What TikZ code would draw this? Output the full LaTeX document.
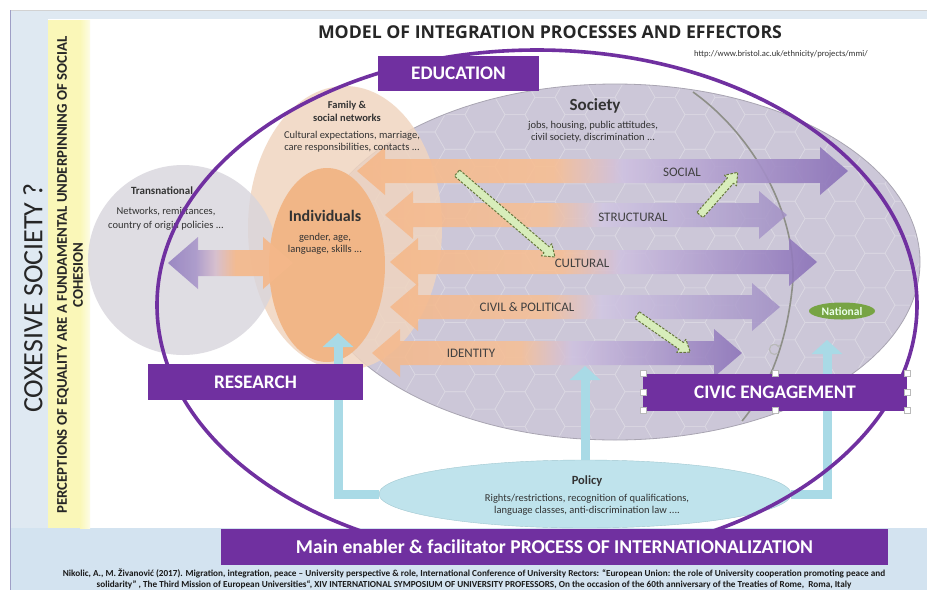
\documentclass[tikz,border=0pt]{standalone}
\usepackage{fontspec}
\setmainfont{Carlito}
\newfontfamily\headfont{Open Sans}
\usetikzlibrary{arrows.meta,calc,shapes.geometric}

\definecolor{vio}{HTML}{7030A0}
\definecolor{socfill}{HTML}{CCC7D8}
\definecolor{socline}{HTML}{DAD7E2}
\definecolor{socedge}{HTML}{A9A5B2}
\definecolor{famfill}{HTML}{F0D5C0}
\definecolor{transfill}{HTML}{D8D5DC}
\definecolor{indfill}{HTML}{F1B687}
\definecolor{polfill}{HTML}{BFE3EC}
\definecolor{polarrow}{HTML}{A9DAE6}
\definecolor{natfill}{HTML}{77A444}
\definecolor{grnfill}{HTML}{D8EDBB}
\definecolor{grnline}{HTML}{66773D}
\definecolor{sideblue}{HTML}{DFE9F2}
\definecolor{footblue}{HTML}{D3E3F0}
\definecolor{stripyel}{HTML}{FAF7B8}
\definecolor{txt}{HTML}{333333}
\definecolor{rowtxt}{HTML}{404040}
\definecolor{arcgray}{HTML}{8E8F88}

% horizontal shadings; 25bp..75bp span the shaded path
\pgfdeclarehorizontalshading{rowdeep}{100bp}{rgb(0bp)=(0.96,0.72,0.54); rgb(25bp)=(0.96,0.72,0.54); rgb(45bp)=(0.97,0.75,0.58); rgb(52bp)=(0.81,0.76,0.88); rgb(75bp)=(0.54,0.44,0.72); rgb(100bp)=(0.54,0.44,0.72)}
\pgfdeclarehorizontalshading{rowlight}{100bp}{rgb(0bp)=(0.96,0.72,0.54); rgb(25bp)=(0.96,0.72,0.54); rgb(45bp)=(0.97,0.75,0.58); rgb(52bp)=(0.82,0.78,0.89); rgb(75bp)=(0.63,0.56,0.77); rgb(100bp)=(0.63,0.56,0.77)}
\pgfdeclarehorizontalshading{transshade}{100bp}{rgb(0bp)=(0.58,0.50,0.75); rgb(25bp)=(0.58,0.50,0.75); rgb(36bp)=(0.66,0.59,0.79); rgb(44bp)=(0.84,0.74,0.80); rgb(52bp)=(0.96,0.72,0.54); rgb(100bp)=(0.96,0.72,0.54)}

\newcommand\fsz[2]{\fontsize{#1}{#2}\selectfont}
% double-headed block arrow: style, left x, right x, mid y, shaft half, head half, head length
\newcommand\dblarrow[7]{\shade[#1] (#2,#4) -- (#2+#7,#4-#6) -- (#2+#7,#4-#5) -- (#3-#7,#4-#5) -- (#3-#7,#4-#6) -- (#3,#4) -- (#3-#7,#4+#6) -- (#3-#7,#4+#5) -- (#2+#7,#4+#5) -- (#2+#7,#4+#6) -- cycle;}

\tikzset{
  greenarrow/.pic={\draw[grnline, fill=grnfill, dash pattern=on 2.5pt off 1.5pt, line width=1pt, line join=round]
     (0,-4) -- (#1-11,-4) -- (#1-11,-8) -- (#1,0) -- (#1-11,8) -- (#1-11,4) -- (0,4) -- cycle;},
  box/.style={fill=vio, text=white, font=\fsz{19.2}{21}\bfseries, inner sep=0pt},
  lbl/.style={text=txt, align=center, inner sep=0pt},
  rowlbl/.style={text=rowtxt, font=\fsz{13}{14}, inner sep=0pt},
  handle/.style={rectangle, fill=white, draw=gray!55, line width=.5pt, minimum size=6pt, inner sep=0pt},
  bluearrow/.style={polarrow, line width=9pt, -{Triangle[width=30pt,length=14pt]}},
  blob/.style={ellipse, inner sep=0pt},
}

\begin{document}
\begin{tikzpicture}[x=1pt,y=-1pt]
\useasboundingbox (0,0) rectangle (927,590);

% page frame
\fill[white] (0,0) rectangle (927,590);
\fill[sideblue] (10,10) rectangle (927,590);
\fill[white] (48,19) rectangle (927,528);
\fill[footblue] (10,528) rectangle (927,590);
\draw[gray!35, line width=.8pt] (10,10) -- (927,10);
\draw[blue!25!gray!60, line width=.8pt] (10,10) -- (10,590);
\fill[stripyel] (48,20) rectangle (90,528);
\shade[left color=stripyel, right color=stripyel!35!white] (80,20) rectangle (90,528);

% society with tiled texture
\node[blob, fill=socfill, draw=socedge, line width=.8pt, minimum width=610pt, minimum height=356pt] (society) at (615,262) {};
\begin{scope}
  \clip (615,262) ellipse [x radius=304, y radius=177];
  \foreach \i in {0,...,21}{
    \foreach \j in {0,...,11}{
      \pgfmathsetmacro\hx{305+30*\i}
      \pgfmathsetmacro\hy{80+34.64*\j+17.32*mod(\i,2)}
      \draw[socline, line width=.6pt] (\hx+20,\hy) -- (\hx+10,\hy+17.32) -- (\hx-10,\hy+17.32) -- (\hx-20,\hy) -- (\hx-10,\hy-17.32) -- (\hx+10,\hy-17.32) -- cycle;
    }}
\end{scope}
\draw[arcgray, line width=1.6pt] (693,92) .. controls (760,140) and (800,225) .. (792,290) .. controls (786,345) and (768,390) .. (742,421);

% family, transnational, individuals
\node[blob, fill=famfill, fill opacity=.85, minimum width=194pt, minimum height=284pt] (family) at (345,228) {};
\node[circle, fill=transfill, fill opacity=.8, minimum size=190pt, inner sep=0pt] (trans) at (183,260) {};
\node[blob, fill=indfill, minimum width=116pt, minimum height=194pt] (indiv) at (327,265) {};

% integration domains
\dblarrow{shading=rowdeep, opacity=.9}{357}{848}{171}{12}{24}{28}
\dblarrow{shading=rowlight, opacity=.85}{385}{787}{215}{12}{24}{28}
\dblarrow{shading=rowdeep, opacity=.88}{390}{817}{262}{12}{24}{28}
\dblarrow{shading=rowlight, opacity=.85}{390}{780}{307}{12}{24}{28}
\dblarrow{shading=rowdeep, opacity=.85}{372}{742}{353}{12}{24}{28}
\dblarrow{shading=transshade, opacity=.9}{168}{293}{263}{13}{26}{30}

\node[rowlbl] (social) at (682,172) {SOCIAL};
\node[rowlbl] (structural) at (633,217) {STRUCTURAL};
\node[rowlbl] (cultural) at (582,263) {CULTURAL};
\node[rowlbl] (civil) at (527,307) {CIVIL \& POLITICAL};
\node[rowlbl] (identity) at (471,353) {IDENTITY};

% cross-domain effects
\coordinate (g1) at (457,173);
\coordinate (g2) at (700,215);
\coordinate (g3) at (637,315);
\pic[rotate=-40.6] at (g1) {greenarrow=129};
\pic[rotate=48.5] at (g2) {greenarrow=57};
\pic[rotate=-34.9] at (g3) {greenarrow=65};

\node[blob, fill=natfill, text=white!92!green, font=\fsz{11.5}{12}\bfseries, minimum width=66pt, minimum height=17pt] (national) at (842,311) {National};

% policy and its influence
\node[blob, fill=polfill, draw=polarrow!80!gray, line width=.4pt, minimum width=412pt, minimum height=68pt] (policy) at (585,494) {};
\coordinate (tipL) at (338,333);
\coordinate (tipM) at (585,366);
\coordinate (tipR) at (827,340);
\draw[bluearrow] (policy.west) -| (tipL);
\draw[bluearrow] (policy.north) -- (tipM);
\draw[bluearrow] (policy.east) -| (tipR);

% labels
\node[lbl, font=\fsz{11}{12}\bfseries] (transT) at (162,191) {Transnational};
\node[lbl, font=\fsz{10.5}{14}] (transD) at (166,219) {Networks, remittances,\\country of origin policies ...};
\node[lbl, font=\fsz{10.5}{13}\bfseries] (famT) at (347,111) {Family \&\\social networks};
\node[lbl, font=\fsz{10.5}{12}] (famD) at (352,142) {Cultural expectations, marriage,\\care responsibilities, contacts ...};
\node[lbl, font=\fsz{16}{18}\bfseries] (indT) at (325,216) {Individuals};
\node[lbl, font=\fsz{10.5}{12}] (indD) at (325,244) {gender, age,\\language, skills ...};
\node[lbl, font=\fsz{17}{18}\bfseries] (socT) at (595,106) {Society};
\node[lbl, font=\fsz{10.5}{12}] (socD) at (593,132) {jobs, housing, public attitudes,\\civil society, discrimination ...};
\node[lbl, font=\fsz{12.5}{13}\bfseries] (polT) at (587,481) {Policy};
\node[lbl, font=\fsz{10.5}{12}] (polD) at (587,505) {Rights/restrictions, recognition of qualifications,\\language classes, anti-discrimination law ....};

% university missions
\draw[vio, line width=3.6pt] (537,305) ellipse [x radius=380, y radius=255];
\node[box, minimum width=161pt, minimum height=35pt] (education) at (458.5,73.5) {EDUCATION};
\node[box, minimum width=215pt, minimum height=36pt] (research) at (255.5,382) {RESEARCH};
\node[box, minimum width=264pt, minimum height=37pt] (civic) at (775,392) {CIVIC ENGAGEMENT};
\node[box, minimum width=667pt, minimum height=36pt, font=\fsz{19.6}{21}\bfseries] (enabler) at (554.5,547) {Main enabler \& facilitator PROCESS OF INTERNATIONALIZATION};
\foreach \a in {north west,north,north east,west,east,south west,south,south east}
  \node[handle] at (civic.\a) {};
\draw[gray!55, line width=1.2pt, -{Stealth[length=3pt,width=4pt]}] (778,353) arc[start angle=45, end angle=340, radius=5];

% headings
\node[inner sep=0pt, text=black!85, font=\headfont\fsz{17.7}{19}\bfseries] (title) at (550,32) {MODEL OF INTEGRATION PROCESSES AND EFFECTORS};
\node[inner sep=0pt, text=txt, font=\fsz{8.6}{9}] (url) at (781,54) {http://www.bristol.ac.uk/ethnicity/projects/mmi/};
\node[inner sep=0pt, text=black!85, rotate=90, font=\fsz{28}{30}] (coxesive) at (33,298) {COXESIVE SOCIETY ?};
\node[inner sep=0pt, text=black!85, rotate=90, align=center, font=\fsz{14.8}{16}\bfseries] (perceptions) at (70,275) {PERCEPTIONS OF EQUALITY ARE A FUNDAMENTAL UNDERPINNING OF SOCIAL\\COHESION};
\node[inner sep=0pt, text=black!90, align=center, font=\fsz{9.2}{11}\bfseries] (citation) at (474,579) {Nikolic, A., M. Živanović (2017). Migration, integration, peace – University perspective \& role, International Conference of University Rectors: “European Union: the role of University cooperation promoting peace and\\solidarity” , The Third Mission of European Universities“, XIV INTERNATIONAL SYMPOSIUM OF UNIVERSITY PROFESSORS, On the occasion of the 60th anniversary of the Treaties of Rome,\ \ Roma, Italy};
\end{tikzpicture}
\end{document}
